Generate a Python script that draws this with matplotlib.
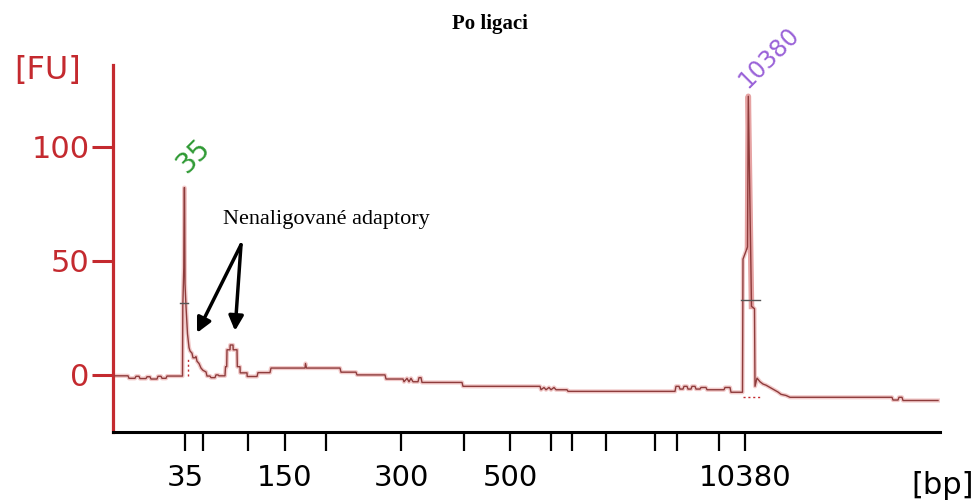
import matplotlib
matplotlib.use("Agg")
import matplotlib.pyplot as plt

# Electropherogram after ligation: migration time (s) vs fluorescence (FU)
time_s = [20.1, 21.4, 21.5, 22.1, 22.2, 22.5, 22.6, 23.2, 23.3, 23.6, 23.7, 24.3, 24.4, 24.7,
          24.8, 25.2, 25.3, 26.85, 26.88, 26.94, 26.98, 27.02, 27.06, 27.1, 27.2, 27.35, 27.5,
          27.6, 27.8, 27.9, 28.1, 28.2, 28.3, 28.5, 28.7, 28.9, 29.2, 29.3, 29.6, 29.7, 30.1,
          30.2, 30.4, 30.5, 31.1, 31.15, 31.27, 31.3, 31.6, 31.62, 31.9, 31.92, 32.3, 32.33,
          32.6, 32.62, 33.3, 33.32, 34.3, 34.4, 35.6, 35.7, 39.1, 39.15, 39.25, 42.6, 42.7,
          44.2, 44.3, 47.1, 47.2, 48.9, 49.0, 49.3, 49.5, 49.7, 49.9, 50.4, 50.5, 50.7, 50.8,
          54.8, 54.9, 62.6, 62.7, 63.0, 63.2, 63.5, 63.7, 64.0, 64.2, 65.3, 65.4, 76.1, 76.2,
          76.5, 76.6, 76.9, 77.0, 77.3, 77.4, 77.7, 77.8, 78.1, 78.2, 78.6, 78.7, 79.2, 79.3,
          81.0, 81.1, 81.6, 81.7, 82.85, 82.9, 83.35, 83.43, 83.75, 84.05, 84.1, 84.3, 84.6,
          84.9, 85.2, 85.6, 86.0, 86.4, 86.7, 87.2, 87.6, 97.8, 97.9, 98.4, 98.5, 98.8, 98.9,
          102.4]
fu = [-0.4, -0.4, -1.5, -1.5, -0.6, -0.6, -1.6, -1.6, -0.8, -0.8, -1.8, -1.8, -0.6, -0.6,
      -1.5, -1.5, -0.5, -0.5, 30, 40, 47, 82, 82, 40, 30, 18, 12,
      10.5, 9.5, 7.5, 7.5, 8.0, 6.0, 5.0, 3.0, 2.0, 1.3, -0.5, -0.5, -1.2, -1.2,
      0.0, 0.0, -0.4, -0.4, 3.6, 3.6, 11.0, 11.0, 13.1, 13.1, 11.0, 11.0, 3.6,
      3.6, 0.9, 0.9, -0.7, -0.7, 1.0, 1.0, 3.0, 3.0, 5.0, 3.0, 3.0, 1.2,
      1.2, 0.0, 0.0, -1.8, -1.8, -3.0, -1.5, -3.0, -1.5, -3.0, -3.0, -1.2, -1.2, -3.3,
      -3.3, -5.0, -5.0, -6.5, -5.5, -6.5, -5.5, -6.5, -5.5, -6.5, -6.5, -7.2, -7.2, -5.0,
      -5.0, -6.2, -6.2, -5.0, -5.0, -6.2, -6.2, -5.0, -5.0, -6.2, -6.2, -5.5, -5.5, -6.5,
      -6.5, -5.5, -5.5, -7.6, -7.6, 50.7, 56, 122, 30, 29, -5, -1.4, -3,
      -4, -4.5, -5.5, -6.5, -7.5, -8.5, -9.0, -9.8, -9.8, -11.0, -11.0, -9.8, -9.8, -11.2,
      -11.2]

# ladder tick positions (s) and their sizes (bp)
ladder_s = [27.1, 28.9, 33.4, 37.1, 41.2, 48.7, 55.0, 59.6, 63.7, 65.8, 69.2, 74.1, 76.3, 80.5, 83.1]
ladder_bp = [35, 50, 100, 150, 200, 300, 400, 500, 600, 700, 1000, 2000, 3000, 7000, 10380]
shown_bp = [35, 150, 300, 500, 10380]

marker_low = (27.03, 35)      # lower marker peak position, size
marker_high = (83.43, 10380)  # upper marker peak position, size

red = '#c42a2f'
trace_col = '#8e3c3c'

fig = plt.figure(figsize=(9.79, 5.04), dpi=100)
ax = fig.add_axes([113 / 979, 1 - 432 / 504, (940 - 113) / 979, (432 - 65) / 504])

# trace with a soft halo underneath
ax.plot(time_s, fu, color='#f2caca', lw=3.0, solid_joinstyle='round', zorder=2)
ax.plot(time_s, fu, color=trace_col, lw=1.0, zorder=3)

# pink band along the tall upper marker spike
i0 = time_s.index(83.35)
ax.plot(time_s[i0:i0 + 3], fu[i0:i0 + 3], color='#e6a3a3', lw=4.0, zorder=2)

# peak width bars and baseline dots
ax.plot([26.6, 27.4], [31.5, 31.5], color='#555555', lw=1.0, zorder=4)
ax.plot([82.7, 84.6], [32.8, 32.8], color='#555555', lw=1.0, zorder=4)
ax.plot([27.4, 27.4], [-0.5, 7], color=red, lw=1.0, ls=(0, (1.5, 2)), zorder=4)
ax.plot([82.9, 84.6], [-9.5, -9.5], color=red, lw=1.0, ls=(0, (1.5, 2)), zorder=4)

# marker peak labels
ax.text(marker_low[0] + 0.9, 96, str(marker_low[1]), color='#2f9a34', fontsize=20,
        rotation=45, ha='center', va='center', clip_on=False)
ax.text(marker_high[0] + 2.1, 139, str(marker_high[1]), color='#9a62d8', fontsize=17,
        rotation=45, ha='center', va='center', clip_on=False)

# adaptor annotation
ax.text(41.2, 68, 'Nenaligované adaptory', family='Liberation Serif', fontsize=16,
        ha='center', va='center')
for tip in [(28.3, 18.4), (32.1, 19.3)]:
    ax.annotate('', xy=tip, xytext=(32.7, 57),
                arrowprops=dict(arrowstyle='-|>', color='black', lw=2.5,
                                mutation_scale=22, shrinkA=0, shrinkB=0))

ax.set_xlim(19.9, 102.6)
ax.set_ylim(-25, 135.7)

for s in ['top', 'right']:
    ax.spines[s].set_visible(False)
ax.spines['left'].set_color(red)
ax.spines['left'].set_linewidth(2.3)
ax.spines['bottom'].set_color('black')
ax.spines['bottom'].set_linewidth(2.2)

ax.set_yticks([0, 50, 100])
ax.tick_params(axis='y', colors=red, length=15, width=2.2, labelsize=22, pad=2)
ax.set_xticks(ladder_s)
ax.set_xticklabels([str(b) if b in shown_bp else '' for b in ladder_bp])
ax.tick_params(axis='x', colors='black', length=14, width=1.6, labelsize=21, pad=9)

fig.text(48 / 979, 1 - 71 / 504, '[FU]', color=red, fontsize=23, ha='center', va='center')
fig.text(943 / 979, 1 - 485 / 504, '[bp]', color='black', fontsize=22, ha='center', va='center')
fig.text(490 / 979, 1 - 24 / 504, 'Po ligaci', family='Liberation Serif', fontweight='bold',
         fontsize=15, ha='center', va='center')

fig.savefig('out.png', dpi=100)
